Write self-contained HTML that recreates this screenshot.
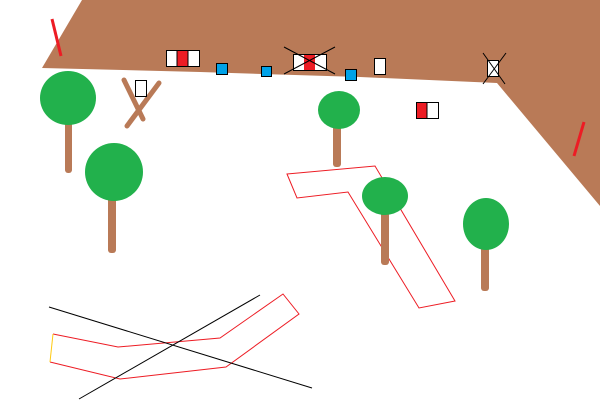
<!DOCTYPE html>
<html><head><style>body{margin:0;background:#fff}svg{display:block}</style></head><body>
<svg width="600" height="400" viewBox="0 0 600 400" xmlns="http://www.w3.org/2000/svg">
<rect width="600" height="400" fill="#fff"/>
<polygon points="82,0 600,0 600,206 497,83 360,77 200,72 42,68" fill="#b97a57"/>
<line x1="52" y1="19" x2="61" y2="56" stroke="#ed1c24" stroke-width="3"/>
<line x1="584" y1="122" x2="574" y2="156" stroke="#ed1c24" stroke-width="3"/>
<!-- boxes -->
<rect x="166.5" y="50.5" width="33" height="16" fill="#fff" stroke="#000"/>
<rect x="177" y="51" width="11" height="15" fill="#ed1c24"/>
<line x1="177" y1="51" x2="177" y2="66" stroke="#000"/><line x1="188" y1="51" x2="188" y2="66" stroke="#000"/>
<rect x="216.5" y="63.5" width="11" height="11" fill="#00a2e8" stroke="#000"/>
<rect x="261.5" y="66.5" width="10" height="10" fill="#00a2e8" stroke="#000"/>
<rect x="345.5" y="69.5" width="11" height="11" fill="#00a2e8" stroke="#000"/>
<rect x="374.5" y="58.5" width="11" height="16" fill="#fff" stroke="#000"/>
<rect x="293.5" y="54.5" width="33" height="16" fill="#fff" stroke="#000"/>
<rect x="304" y="55" width="11" height="15" fill="#ed1c24"/>
<line x1="284" y1="47" x2="335" y2="74" stroke="#000"/><line x1="335" y1="47" x2="284" y2="74" stroke="#000"/>
<rect x="416.5" y="102.5" width="22" height="16" fill="#fff" stroke="#000"/>
<rect x="417" y="103" width="10" height="15" fill="#ed1c24"/>
<line x1="427" y1="103" x2="427" y2="118" stroke="#000"/>
<rect x="487.5" y="60.5" width="11" height="16" fill="#fff" stroke="#000"/>
<line x1="483" y1="53" x2="505" y2="84" stroke="#000"/><line x1="506" y1="53" x2="483" y2="84" stroke="#000"/>
<!-- sticks -->
<line x1="124" y1="80" x2="143" y2="119" stroke="#b97a57" stroke-width="5" stroke-linecap="round"/>
<line x1="159" y1="83" x2="127" y2="126" stroke="#b97a57" stroke-width="5" stroke-linecap="round"/>
<rect x="135.5" y="80.5" width="11" height="16" fill="#fff" stroke="#000"/>
<!-- red polys -->
<polygon points="287,174 375,166 455,301 419,308 348,192 297,198" fill="none" stroke="#ed1c24"/>
<polyline points="50,362 120,379 226,367 299,314 283,294 220,338 118,347 53,334" fill="none" stroke="#ed1c24"/>
<line x1="53" y1="334" x2="50" y2="362" stroke="#ffc90e"/>
<line x1="49" y1="307" x2="312" y2="388" stroke="#000"/>
<line x1="79" y1="399" x2="260" y2="295" stroke="#000"/>
<!-- trees -->
<g fill="#b97a57">
<rect x="65" y="98" width="7" height="75" rx="3"/>
<rect x="108" y="172" width="8" height="81" rx="3"/>
<rect x="333" y="110" width="8" height="57" rx="3"/>
<rect x="381" y="195" width="8" height="70" rx="3"/>
<rect x="481" y="224" width="8" height="67" rx="3"/>
</g>
<g fill="#22b14c">
<ellipse cx="68" cy="98" rx="28" ry="27"/>
<ellipse cx="114" cy="172" rx="29" ry="29"/>
<ellipse cx="339" cy="110" rx="21" ry="19"/>
<ellipse cx="385" cy="196" rx="23" ry="19"/>
<ellipse cx="486" cy="224" rx="23" ry="26"/>
</g>
</svg>
</body></html>
